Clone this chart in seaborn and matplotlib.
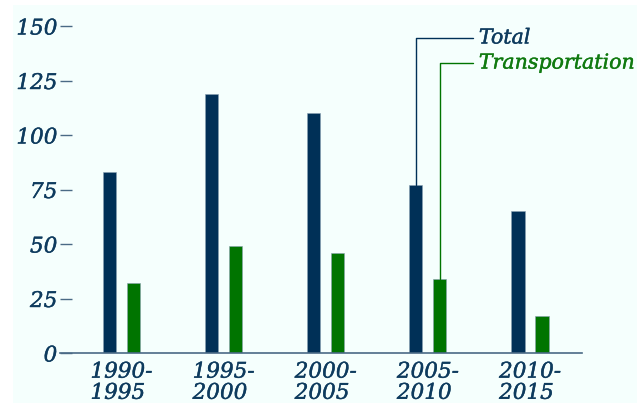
import numpy as np
import pandas as pd
import matplotlib
matplotlib.use("Agg")
import matplotlib.pyplot as plt
import matplotlib.patheffects as pe
from matplotlib.patches import Rectangle
import seaborn as sns

# data
periods = ["1990-\n1995", "1995-\n2000", "2000-\n2005", "2005-\n2010", "2010-\n2015"]
total = [83, 119, 110, 77, 65]
transportation = [32, 49, 46, 34, 17]
series_names = ["Total", "Transportation"]
y_ticks = [0, 25, 50, 75, 100, 125, 150]

navy = "#003057"
green = "#007400"
navy_text = "#0e3b5e"
green_text = "#107a10"
bg = "#f5fffd"
fs = 15.5

df = pd.DataFrame({
    "period": periods * 2,
    "value": total + transportation,
    "series": [series_names[0]] * len(periods) + [series_names[1]] * len(periods),
})

sns.set_style("white")
plt.rcParams["font.family"] = ["DejaVu Serif"]
plt.rcParams["font.style"] = "italic"

fig = plt.figure(figsize=(6.44, 4.03), dpi=100, facecolor="white")
fig.patches.append(Rectangle((13 / 644, 0), (637 - 13) / 644, 398 / 403,
                             transform=fig.transFigure, facecolor=bg,
                             edgecolor="none", zorder=-10))
ax = fig.add_axes([60 / 644, 50 / 403, (582 - 60) / 644, (353 - 26) / 403])
ax.set_facecolor("none")

sns.barplot(data=df, x="period", y="value", hue="series", order=periods,
            hue_order=series_names, palette=[navy, green], width=0.47, gap=0.45,
            saturation=1, edgecolor="#8aa0b2", linewidth=0.4, legend=False, ax=ax)

ax.set_xlim(-0.6, 4.51)
ax.set_ylim(0, 150)
ax.set_yticks(y_ticks)
ax.set_yticklabels([str(v) for v in y_ticks], fontsize=fs, color=navy_text, style="italic")
ax.set_xticks(range(len(periods)))
ax.set_xticklabels(periods, fontsize=fs, color=navy_text, style="italic",
                   linespacing=0.95, multialignment="left")
ax.tick_params(axis="y", direction="in", length=8.6, width=1, color="#4a6a85",
               pad=2, left=True)
ax.tick_params(axis="x", length=0, pad=5.5)
ax.set_xlabel("")
ax.set_ylabel("")
for s in ["top", "right", "left"]:
    ax.spines[s].set_visible(False)
ax.spines["bottom"].set_color("#4a6a85")
ax.spines["bottom"].set_linewidth(1.2)

# slightly heavier strokes, the reference font is bolder than DejaVu Serif
heavy = [pe.withStroke(linewidth=0.3, foreground=navy_text)]
for lab in ax.get_xticklabels() + ax.get_yticklabels():
    lab.set_path_effects(heavy)

# callout lines to the 2005-2010 bars
bars = ax.patches
tot_bar = bars[3]
tr_bar = bars[len(periods) + 3]
x_end = 3.44
for bar, y_lab, col, tcol, name in [(tot_bar, 144.5, navy, navy_text, series_names[0]),
                                     (tr_bar, 133, green, green_text, series_names[1])]:
    xc = bar.get_x() + bar.get_width() / 2
    ax.plot([xc, xc, x_end], [bar.get_height(), y_lab, y_lab], color=col,
            linewidth=1, clip_on=False, zorder=1)
    ax.text(x_end + 0.06, y_lab, name, color=tcol, fontsize=14.8, style="italic",
            va="center", ha="left",
            path_effects=[pe.withStroke(linewidth=0.3, foreground=tcol)])

fig.savefig("out.png", dpi=100, facecolor=fig.get_facecolor())
